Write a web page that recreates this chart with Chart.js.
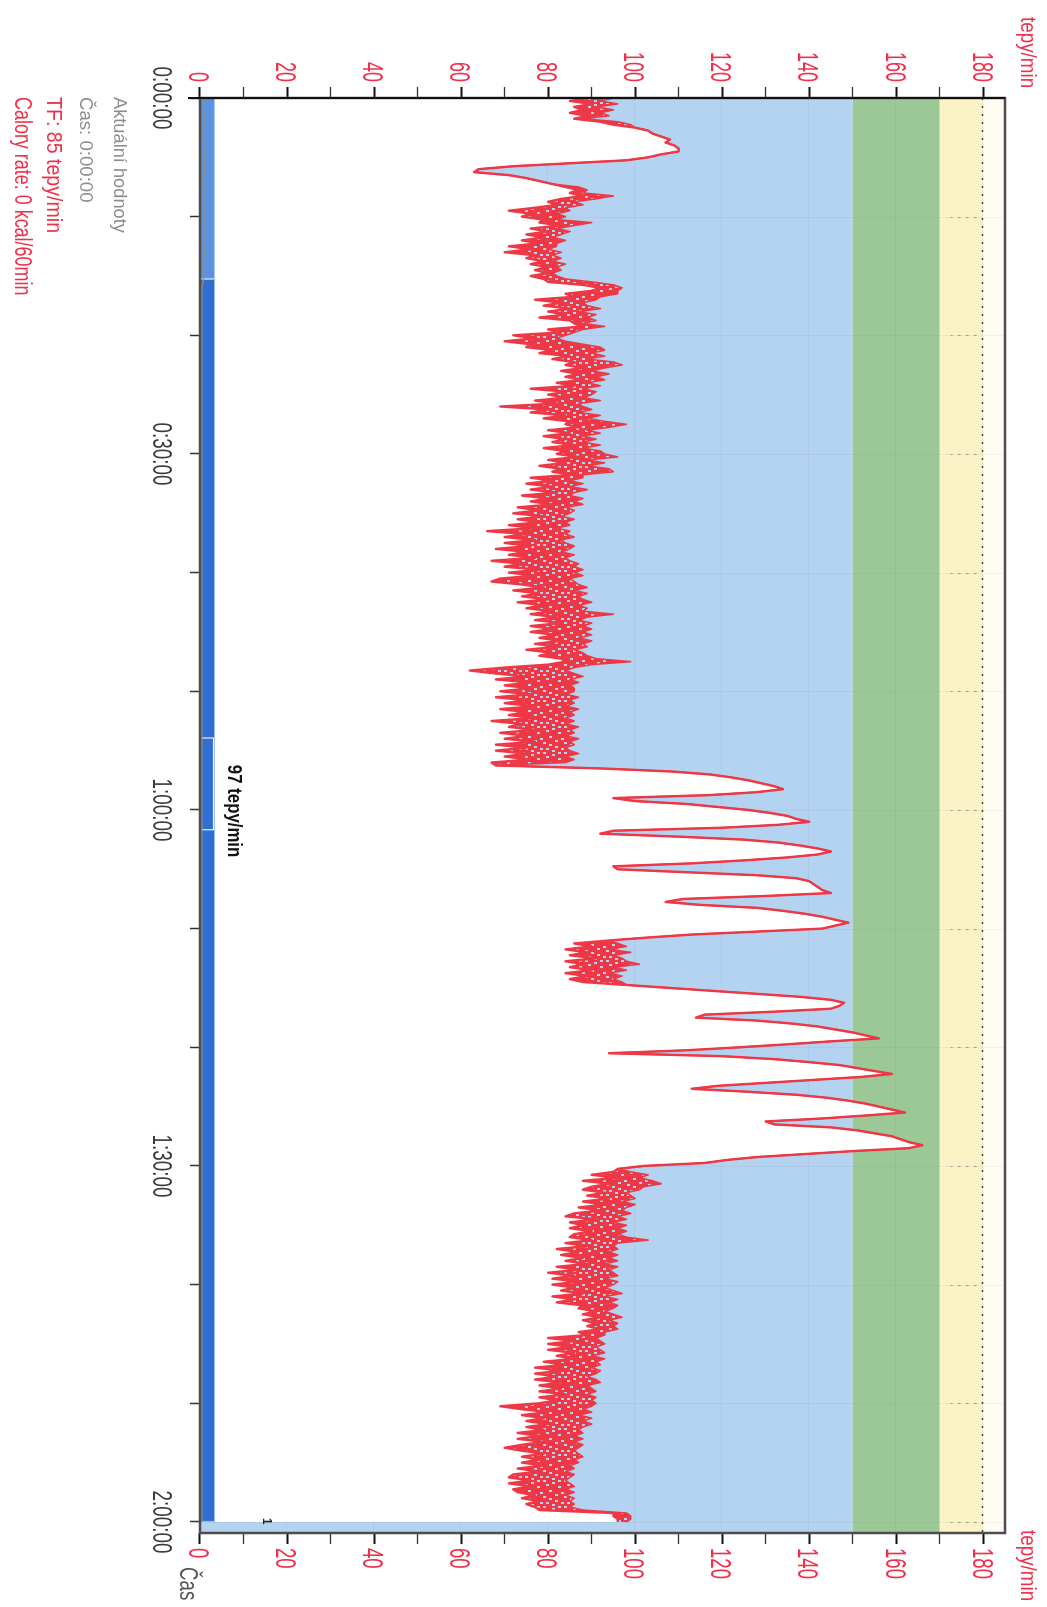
<!DOCTYPE html>
<html>
<head>
<meta charset="utf-8">
<script src="https://cdn.jsdelivr.net/npm/chart.js@4.4.1/dist/chart.umd.min.js"></script>
<style>
  html, body { margin: 0; padding: 0; background: #fff; overflow: hidden; }
  #page { position: relative; width: 1047px; height: 1607px; overflow: hidden; background: #fff; }
  /* the recording sheet is laid out in landscape and turned a quarter clockwise */
  #sheet { position: absolute; left: 0; top: 0; width: 1607px; height: 1047px;
           transform-origin: 0 0; transform: translate(1047px, 0) rotate(90deg); }
  canvas { display: block; }
</style>
</head>
<body>
<div id="page"><div id="sheet"><canvas id="hr" width="1607" height="1047"></canvas></div></div>
<script>
// Heart rate per 15 s interval, 0:00:00 .. 2:00:00 (beats per minute):
// lowest and highest reading inside each interval
const SAMPLE_STEP_S = 15;
const hrLow = [
  89,85,90,86,88,85,89,86,92,95,
  100,103,104,106,108,107,109,110,110,106,
  103,98,85,72,64,63,71,75,78,81,
  84,87,85,88,83,80,82,77,71,76,
  74,79,78,83,76,80,75,79,74,78,
  71,76,70,77,75,79,76,80,77,80,
  76,79,80,88,92,90,84,86,77,83,
  79,85,80,84,78,85,86,88,80,83,
  72,77,70,76,75,81,78,85,81,86,
  84,88,83,87,84,88,82,86,76,84,
  80,84,77,82,69,80,76,84,79,85,
  84,87,80,85,79,84,81,86,79,84,
  82,87,80,84,78,83,81,86,76,81,
  75,81,76,82,74,80,76,81,73,78,
  72,79,73,78,71,77,66,75,70,77,
  70,76,68,75,71,77,67,74,70,78,
  71,77,69,67,74,79,72,78,74,80,
  73,79,75,81,76,82,77,83,76,81,
  76,82,78,83,77,82,75,81,78,83,
  84,80,70,62,68,75,68,76,70,76,
  69,76,68,75,70,77,69,75,71,77,
  67,74,71,77,69,75,70,77,68,75,
  68,75,70,76,67,68,92,108,117,122,
  126,129,132,134,128,117,95,100,112,119,
  126,131,135,137,140,133,120,95,92,110,
  125,133,138,142,145,142,135,125,113,95,
  96,112,128,137,140,141,142,143,145,130,
  111,107,115,128,134,139,143,146,149,146,
  143,128,113,103,94,86,90,84,89,85,
  91,84,88,85,90,84,89,85,88,98,
  108,118,128,138,145,148,147,145,132,116,
  114,128,136,142,146,150,153,156,145,135,
  124,112,94,120,132,140,147,151,155,159,
  152,141,130,119,113,126,137,144,149,153,
  156,159,162,153,143,130,132,145,151,155,
  159,161,163,166,163,150,139,128,121,116,
  102,96,95,90,96,88,94,90,88,93,
  89,94,88,93,87,92,86,84,91,85,
  88,85,90,86,85,90,84,89,82,87,
  83,88,84,89,82,87,80,86,81,87,
  81,86,83,88,81,86,82,88,87,91,
  88,92,88,91,89,92,87,89,80,86,
  80,85,80,86,82,86,79,84,77,83,
  77,82,77,83,78,83,78,84,78,82,
  78,69,74,80,74,79,75,80,75,79,
  73,78,73,79,74,70,74,79,74,78,
  74,79,73,78,72,71,76,71,76,72,
  73,77,74,78,75,77,78,95,95,96,
  96
];
const hrHigh = [
  95,92,96,91,95,92,94,88,96,99,
  100,103,104,106,108,107,109,110,110,106,
  103,98,85,72,64,63,71,75,78,81,
  87,89,88,95,91,86,88,84,85,82,
  84,82,90,86,82,85,83,81,84,82,
  82,80,83,81,83,81,84,82,83,81,
  82,84,90,95,97,96,96,92,91,88,
  89,92,87,91,89,91,88,93,88,86,
  84,82,84,88,92,93,90,93,89,95,
  97,93,90,94,91,93,89,92,88,91,
  90,88,92,87,88,90,87,92,89,93,
  98,94,89,92,88,91,88,92,88,92,
  93,96,89,93,89,94,95,88,88,85,
  88,85,89,86,85,88,86,88,84,86,
  85,83,86,84,85,82,85,84,86,83,
  84,86,85,83,86,84,85,87,86,88,
  86,88,85,86,87,89,86,89,87,88,
  90,87,89,88,95,89,87,90,88,90,
  88,90,87,90,88,89,86,88,89,91,
  99,90,86,84,86,88,85,87,85,86,
  86,84,87,85,86,84,87,85,86,84,
  86,84,87,85,86,84,87,85,86,84,
  85,87,84,86,84,68,92,108,117,122,
  126,129,132,134,128,117,95,100,112,119,
  126,131,135,137,140,133,120,95,92,110,
  125,133,138,142,145,142,135,125,113,95,
  96,112,128,137,140,141,142,143,145,130,
  111,107,115,128,134,139,143,146,149,146,
  143,128,113,103,94,96,98,94,99,95,
  97,98,101,95,98,94,97,95,97,98,
  108,118,128,138,145,148,147,145,132,116,
  114,128,136,142,146,150,153,156,145,135,
  124,112,94,120,132,140,147,151,155,159,
  152,141,130,119,113,126,137,144,149,153,
  156,159,162,153,143,130,132,145,151,155,
  159,161,163,166,163,150,139,128,121,116,
  102,96,99,103,101,104,106,102,101,98,
  99,100,97,100,98,97,99,96,98,95,
  98,96,98,96,98,103,96,95,96,94,
  96,94,96,93,96,94,95,96,93,96,
  95,93,95,97,93,96,94,96,95,93,
  95,97,94,96,95,96,93,93,91,92,
  93,91,92,93,90,93,91,92,90,92,
  91,89,91,92,89,90,91,89,91,90,
  91,90,88,90,87,90,88,90,88,87,
  88,86,88,86,88,87,86,87,88,86,
  87,85,86,84,86,85,84,85,86,84,
  86,84,86,85,86,85,88,98,99,99,
  98
];

// Secondary trace along the lap bar (first lap only, then flat)
const secondaryTimes  = [0,60,120,180,240,300,360,420,480,540,600,660,720,780,840,900,960,7200];
const secondaryValues = [1.3,0.7,1.2,0.5,1.4,0.9,1.1,0.6,1.3,0.8,1.0,1.4,0.7,1.2,0.6,0.9,0.4,0.4];

// Time axis
const timeMax = 7256;
const timeTickSeconds = [0,600,1200,1800,2400,3000,3600,4200,4800,5400,6000,6600,7200];
const timeLabelSeconds = [0,1800,3600,5400,7200];
const timeLabels = ['0:00:00','0:30:00','1:00:00','1:30:00','2:00:00'];

// Heart-rate axes
const hrMax = 185;
const hrTickValues = [0,10,20,30,40,50,60,70,80,90,100,110,120,130,140,150,160,170,180];
const hrLabelValues = [0,20,40,60,80,100,120,140,160,180];

// Training zones (bpm)
const zoneFrom = [0, 150, 170, 180];
const zoneTo   = [150, 170, 180, 185];
const zoneFill = ['#b4d3f0', '#9cc898', '#fbf3c6', '#fefcf3'];

// Laps shown in the bar along the bottom of the plot
const lapStart = [0, 915];
const lapEnd   = [915, 7200];
const lapFill  = ['#5a93e2', '#2f6ed3'];
const cursorSpan = [3236, 3700];
const cursorText = '97 tepy/min';
const cursorTextAt = [3372, 6.4];

const readoutLines = ['Aktuální hodnoty', 'Čas: 0:00:00', 'TF: 85 tepy/min', 'Calory rate: 0 kcal/60min'];

const RED = '#f0304a';
const LINE_RED = '#ee3845';
const FONT = '"Liberation Sans", Arial, sans-serif';
const LAP_BAR_TOP = 3.45;

// speckled red used between the lowest and highest reading ('0' = gap)
const SPECKLE = [
  '1111101111011',
  '1101111111110',
  '1111110110111',
  '0111111111101',
  '1111011101111',
  '1011111111011',
  '1111111011110'
];
function speckledRed() {
  const cw = 2, ch = 3;
  const c = document.createElement('canvas');
  c.width = SPECKLE[0].length * cw;
  c.height = SPECKLE.length * ch;
  const g = c.getContext('2d');
  g.fillStyle = LINE_RED;
  SPECKLE.forEach((row, r) => {
    for (let k = 0; k < row.length; k++) {
      if (row[k] === '1') g.fillRect(k * cw, r * ch, cw, ch);
    }
  });
  return g.createPattern(c, 'repeat');
}

function squeezeText(ctx, str, x, y, font, color, sx, align) {
  ctx.save();
  ctx.translate(x, y);
  ctx.scale(sx, 1);
  ctx.font = font;
  ctx.fillStyle = color;
  ctx.textAlign = align || 'left';
  ctx.textBaseline = 'alphabetic';
  ctx.fillText(str, 0, 0);
  ctx.restore();
}

const sheetPlugin = {
  id: 'sheet',
  beforeDatasetsDraw(chart) {
    const { ctx, chartArea: a, scales: { x, y } } = chart;
    ctx.save();
    // zone bands
    for (let i = 0; i < zoneFrom.length; i++) {
      const top = y.getPixelForValue(zoneTo[i]);
      const bot = y.getPixelForValue(zoneFrom[i]);
      ctx.fillStyle = zoneFill[i];
      ctx.fillRect(a.left, top, a.right - a.left, bot - top);
    }
    // faint grid
    ctx.lineWidth = 1;
    ctx.strokeStyle = 'rgba(90,100,130,0.08)';
    for (const v of timeTickSeconds) {
      if (v === 0) continue;
      const px = Math.round(x.getPixelForValue(v)) + 0.5;
      ctx.beginPath(); ctx.moveTo(px, a.top); ctx.lineTo(px, a.bottom); ctx.stroke();
    }
    for (const v of hrLabelValues) {
      if (v === 0) continue;
      const py = Math.round(y.getPixelForValue(v)) + 0.5;
      ctx.beginPath(); ctx.moveTo(a.left, py); ctx.lineTo(a.right, py); ctx.stroke();
    }
    // short dashed markers in the top zone
    ctx.strokeStyle = 'rgba(70,70,70,0.45)';
    ctx.setLineDash([3, 5]);
    for (const v of timeTickSeconds) {
      if (v === 0) continue;
      const px = Math.round(x.getPixelForValue(v)) + 0.5;
      ctx.beginPath(); ctx.moveTo(px, y.getPixelForValue(178.5)); ctx.lineTo(px, y.getPixelForValue(172.5)); ctx.stroke();
    }
    ctx.restore();
  },
  afterDatasetDraw(chart, args) {
    if (args.index !== 1) return;
    const { ctx, scales: { x, y } } = chart;
    const y0 = y.getPixelForValue(0);
    const y1 = y.getPixelForValue(LAP_BAR_TOP);
    ctx.save();
    for (let i = 0; i < lapStart.length; i++) {
      const x0 = x.getPixelForValue(lapStart[i]);
      const x1 = x.getPixelForValue(lapEnd[i]);
      ctx.fillStyle = lapFill[i];
      ctx.fillRect(x0, y1, x1 - x0, y0 - y1);
      ctx.strokeStyle = 'rgba(255,255,255,0.55)';
      ctx.lineWidth = 1;
      ctx.strokeRect(x0 + 0.5, y1 + 0.5, x1 - x0 - 1, y0 - y1 - 1);
    }
    const c0 = x.getPixelForValue(cursorSpan[0]);
    const c1 = x.getPixelForValue(cursorSpan[1]);
    ctx.strokeStyle = 'rgba(255,255,255,0.9)';
    ctx.lineWidth = 1.2;
    ctx.strokeRect(c0, y.getPixelForValue(3.1), c1 - c0, y0 - y.getPixelForValue(3.1));
    ctx.restore();
  },
  afterDraw(chart) {
    const { ctx, chartArea: a, scales: { x, y, y2 } } = chart;
    ctx.save();
    // dotted line at 180
    const p180 = Math.round(y.getPixelForValue(180)) + 0.5;
    ctx.strokeStyle = '#444';
    ctx.lineWidth = 1.5;
    ctx.setLineDash([2, 6]);
    ctx.beginPath(); ctx.moveTo(a.left, p180); ctx.lineTo(a.right, p180); ctx.stroke();
    ctx.setLineDash([]);
    // frame
    ctx.strokeStyle = '#4d4d4d';
    ctx.lineWidth = 2.5;
    ctx.strokeRect(a.left, a.top, a.right - a.left, a.bottom - a.top);
    ctx.strokeStyle = '#111';
    ctx.lineWidth = 2;
    ctx.beginPath(); ctx.moveTo(a.left, a.top); ctx.lineTo(a.left, a.bottom + 12); ctx.stroke();
    ctx.restore();

    // heart-rate tick labels on both sides
    const tickFont = '30px ' + FONT;
    for (const v of hrLabelValues) {
      squeezeText(ctx, String(v), a.left - 16, y.getPixelForValue(v) + 10.7, tickFont, RED, 0.6, 'right');
      squeezeText(ctx, String(v), a.right + 15, y2.getPixelForValue(v) + 10.7, tickFont, RED, 0.62, 'left');
    }
    // time tick labels
    for (let i = 0; i < timeLabelSeconds.length; i++) {
      const px = x.getPixelForValue(timeLabelSeconds[i]);
      squeezeText(ctx, timeLabels[i], px, a.bottom + 47, '28px ' + FONT, '#3c3c3c', 0.675, 'center');
    }
    // axis titles
    squeezeText(ctx, 'tepy/min', 17, 25.5, '22px ' + FONT, RED, 0.855, 'left');
    squeezeText(ctx, 'tepy/min', a.right - 3, 25.5, '22px ' + FONT, RED, 0.855, 'left');
    squeezeText(ctx, 'Čas', a.right + 34, a.bottom + 20, '26px ' + FONT, '#555', 0.72, 'left');

    // readouts below the time axis
    squeezeText(ctx, readoutLines[0], 97, 933, '19px ' + FONT, '#8d8d8d', 0.96, 'left');
    squeezeText(ctx, readoutLines[1], 97, 967, '19px ' + FONT, '#8d8d8d', 0.98, 'left');
    squeezeText(ctx, readoutLines[2], 97, 999.5, '22px ' + FONT, RED, 0.89, 'left');
    squeezeText(ctx, readoutLines[3], 97, 1032, '23px ' + FONT, RED, 0.78, 'left');

    // cursor readout
    squeezeText(ctx, cursorText, x.getPixelForValue(cursorTextAt[0]), y.getPixelForValue(cursorTextAt[1]),
      'bold 20px ' + FONT, '#111', 0.84, 'left');
    // lap number
    squeezeText(ctx, '1', x.getPixelForValue(7196), y.getPixelForValue(14.5), 'bold 13px ' + FONT, '#222', 0.9, 'center');
  }
};

const lowPoints = hrLow.map((v, i) => ({ x: i * SAMPLE_STEP_S, y: v }));
const highPoints = hrHigh.map((v, i) => ({ x: i * SAMPLE_STEP_S, y: v }));
const secondaryPoints = secondaryTimes.map((t, i) => ({ x: t, y: secondaryValues[i] }));

const hrAxis = (side, width) => ({
  type: 'linear', position: side, min: 0, max: hrMax,
  afterBuildTicks(s) { s.ticks = hrTickValues.map(v => ({ value: v })); },
  afterFit(s) { s.width = width; },
  ticks: { display: false },
  grid: { drawOnChartArea: false, drawTicks: true, tickLength: 11,
          tickColor: ctx => (ctx.tick && ctx.tick.value % 20 === 0) ? '#111' : '#333',
          tickWidth: ctx => (ctx.tick && ctx.tick.value % 20 === 0) ? 2 : 1.3 },
  border: { display: false }
});

new Chart(document.getElementById('hr'), {
  type: 'line',
  data: {
    datasets: [
      { label: 'TF min', data: lowPoints, order: 3, borderColor: LINE_RED, borderWidth: 2.4,
        backgroundColor: '#ffffff', fill: 'origin', pointRadius: 0, tension: 0,
        borderJoinStyle: 'round', yAxisID: 'y' },
      { label: 'TF max', data: highPoints, order: 2, borderColor: LINE_RED, borderWidth: 1.6,
        backgroundColor: speckledRed(), fill: '-1', pointRadius: 0, tension: 0,
        borderJoinStyle: 'round', yAxisID: 'y' },
      { label: 'trace', data: secondaryPoints, order: 0, borderColor: '#8c8c8c', borderWidth: 1.5,
        fill: false, pointRadius: 0, tension: 0, yAxisID: 'y' }
    ]
  },
  options: {
    responsive: false, animation: false, devicePixelRatio: 1,
    layout: { padding: { top: 42, left: 0, right: 0, bottom: 0 } },
    plugins: { legend: { display: false }, tooltip: { enabled: false } },
    scales: {
      x: {
        type: 'linear', position: 'bottom', min: 0, max: timeMax,
        afterBuildTicks(s) { s.ticks = timeTickSeconds.map(v => ({ value: v })); },
        afterFit(s) { s.height = 200; },
        ticks: { display: false },
        grid: { drawOnChartArea: false, drawTicks: true, tickLength: 10, tickColor: '#333', tickWidth: 1.5 },
        border: { display: false }
      },
      y: hrAxis('left', 98),
      y2: hrAxis('right', 74)
    }
  },
  plugins: [sheetPlugin]
});
</script>
</body>
</html>
